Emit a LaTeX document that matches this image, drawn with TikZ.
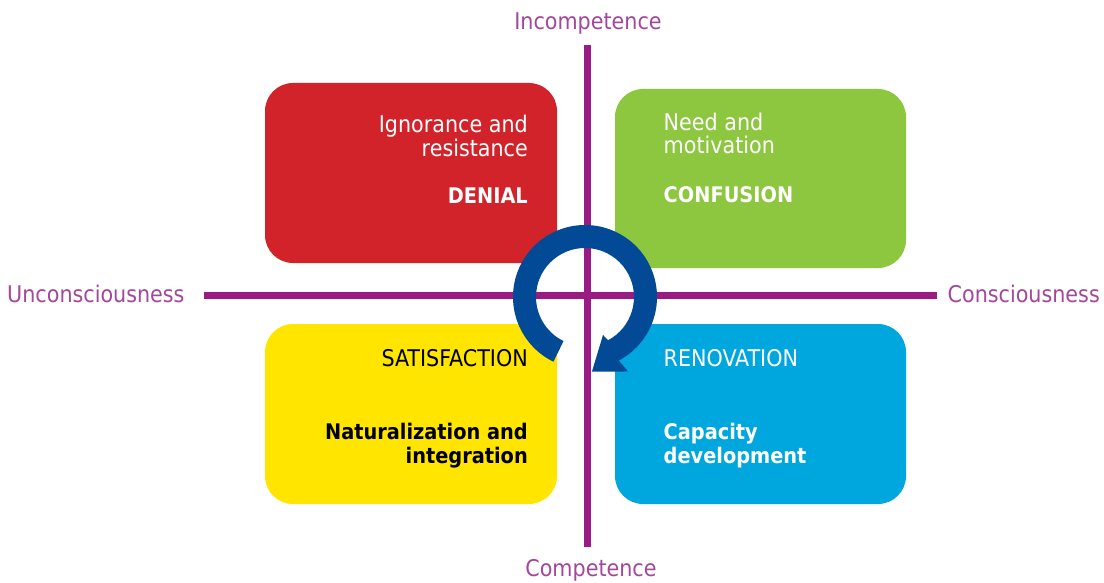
\documentclass[tikz,border=0pt]{standalone}
\usepackage{fontspec}
\setmainfont{DejaVu Sans Condensed}
\definecolor{redbox}{HTML}{D2232A}
\definecolor{greenbox}{HTML}{8DC63F}
\definecolor{yellowbox}{HTML}{FFE500}
\definecolor{bluebox}{HTML}{00A7DF}
\definecolor{arrowblue}{HTML}{034A96}
\definecolor{axispurple}{HTML}{9B1B85}
\definecolor{labelpurple}{HTML}{A3479A}
\begin{document}
\begin{tikzpicture}[x=1pt,y=-1pt,
  quad/.style={draw=none, rounded corners=28pt, inner sep=0pt},
  txt/.style={inner sep=0pt, font=\fontsize{23}{24}\selectfont},
  btx/.style={font=\fontsize{21.5}{24}\selectfont\bfseries},
  wtxt/.style={txt, text=white},
  ktxt/.style={txt, text=black},
  axislabel/.style={inner sep=0pt, text=labelpurple, font=\fontsize{23}{24}\selectfont},
  axisline/.style={draw=axispurple, line width=7pt}]
\useasboundingbox (0,0) rectangle (1104,583);
% quadrants
\node[quad, fill=redbox, minimum width=292pt, minimum height=180pt] (red) at (411,173) {};
\node[quad, fill=greenbox, minimum width=291pt, minimum height=179pt] (green) at (760.5,178.5) {};
\node[quad, fill=yellowbox, minimum width=292pt, minimum height=180pt] (yellow) at (411,414) {};
\node[quad, fill=bluebox, minimum width=291pt, minimum height=180pt] (blue) at (760.5,414) {};
% axes
\coordinate (vt) at (587,45);
\coordinate (vb) at (587,547);
\coordinate (hl) at (204,295);
\coordinate (hr) at (937,295);
\draw[axisline] (vt) -- (vb);
\draw[axisline] (hl) -- (hr);
% axis labels
\node[axislabel, anchor=base] (inc) at (588,30) {Incompetence};
\node[axislabel, anchor=base] (comp) at (591,576.5) {Competence};
\node[axislabel, anchor=base west] (uncon) at (7,302) {Unconsciousness};
\node[axislabel, anchor=base east] (con) at (1100,302) {Consciousness};
% red texts
\node[wtxt, anchor=base east] (r1) at (528,133) {Ignorance and};
\node[wtxt, anchor=base east] (r2) at (528,157) {resistance};
\node[wtxt, btx, anchor=base east] (r3) at (528,204) {DENIAL};
% green texts
\node[wtxt, anchor=base west] (g1) at (663.5,130.5) {Need and};
\node[wtxt, anchor=base west] (g2) at (663.5,154) {motivation};
\node[wtxt, btx, anchor=base west] (g3) at (663.5,202.5) {CONFUSION};
% yellow texts
\node[ktxt, anchor=base east] (y1) at (528,366) {SATISFACTION};
\node[ktxt, btx, anchor=base east] (y2) at (528,439) {Naturalization and};
\node[ktxt, btx, anchor=base east] (y3) at (528,463) {integration};
% blue texts
\node[wtxt, anchor=base west] (b1) at (663.5,366) {RENOVATION};
\node[wtxt, btx, anchor=base west] (b2) at (663.5,439) {Capacity};
\node[wtxt, btx, anchor=base west] (b3) at (663.5,463) {development};
% cycle arrow
\fill[arrowblue, shift={(585,297)}] (116:72) arc[start angle=116, end angle=422, radius=72]
  -- (420:86) -- (84.7:75) -- (424.6:42) -- (422:49)
  arc[start angle=422, end angle=116, radius=49] -- cycle;
\end{tikzpicture}
\end{document}
